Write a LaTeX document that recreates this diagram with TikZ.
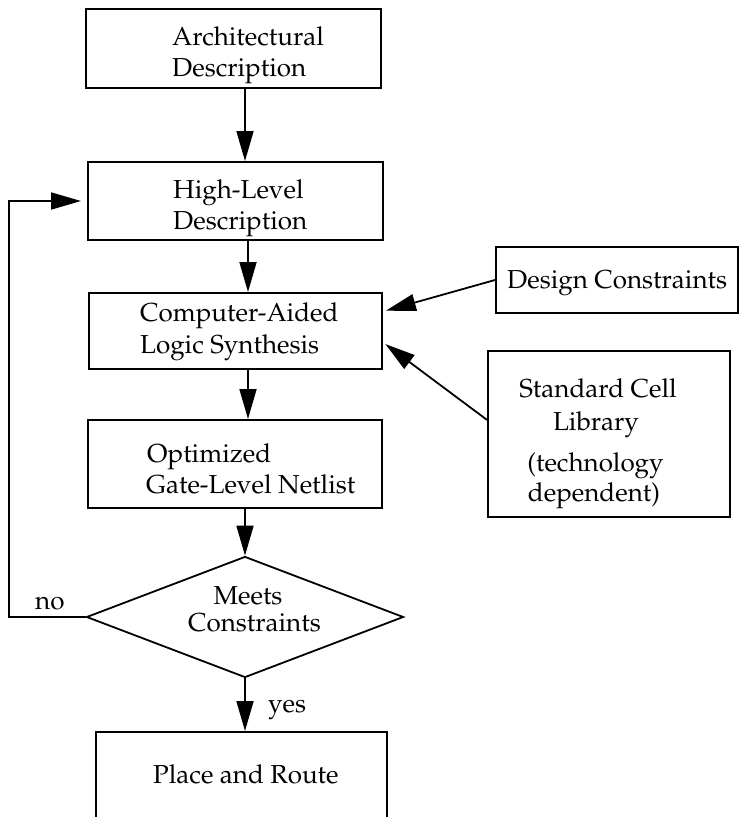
\documentclass[tikz,border=0pt]{standalone}
\usepackage[T1]{fontenc}
\renewcommand{\rmdefault}{ppl}
\usetikzlibrary{arrows.meta,shapes.geometric,calc}
\tikzset{
  box/.style={draw, line width=2pt, inner sep=0pt, rectangle},
  dia/.style={draw, line width=1.8pt, inner sep=0pt, diamond},
  arr/.style={line width=1.8pt, -{Triangle[length=30pt,width=17pt]}},
  txt/.style={inner sep=0pt, anchor=base west, font=\fontsize{26}{31}\selectfont},
  ctxt/.style={txt, anchor=base},
}
\begin{document}
\begin{tikzpicture}[x=1pt,y=-1pt]
\useasboundingbox (0,0) rectangle (745,817);
\clip (0,0) rectangle (745,817);
\fill[white] (0,0) rectangle (745,817);
% boxes
\node[box, minimum width=295pt, minimum height=79pt] (arch) at (233.5,48.5) {};
\node[box, minimum width=295pt, minimum height=78pt] (hl) at (235.5,201) {};
\node[box, minimum width=293pt, minimum height=76pt] (cals) at (235.5,331) {};
\node[box, minimum width=294pt, minimum height=88pt] (opt) at (235,464) {};
\node[dia, minimum width=317pt, minimum height=121pt] (dm) at (245,617) {};
\node[box, minimum width=291pt, minimum height=118pt] (place) at (241.5,791) {};
\node[box, minimum width=242pt, minimum height=66pt] (dc) at (617,280) {};
\node[box, minimum width=242pt, minimum height=166pt] (sc) at (609,434) {};
% texts
\node[txt] (t1a) at (172,45) {Architectural};
\node[txt] (t1b) at (172,76) {Description};
\node[txt] (t2a) at (173,198) {High-Level};
\node[txt] (t2b) at (173,229) {Description};
\node[txt] (t3a) at (140,321) {Computer-Aided};
\node[txt] (t3b) at (140,353) {Logic Synthesis};
\node[txt] (t4a) at (147,462) {Optimized};
\node[txt] (t4b) at (146,493) {Gate-Level Netlist};
\node[ctxt] (t5a) at (248,604) {Meets};
\node[ctxt] (t5b) at (254.5,631) {Constraints};
\node[txt] (t6) at (153,783) {Place and Route};
\node[txt] (t7) at (507,288) {Design Constraints};
\node[ctxt] (t8a) at (598,397) {Standard Cell};
\node[ctxt] (t8b) at (596,430) {Library};
\node[ctxt] (t8c) at (595.5,471) {(technology};
\node[ctxt] (t8d) at (594,501) {dependent)};
\node[txt] (no) at (35,609) {no};
\node[txt] (yes) at (268,712) {yes};
% connectors
\coordinate (fb) at (9,400);
\draw[arr] (arch.south -| 245,0) -- (hl.north -| 245,0);
\draw[arr] (hl.south -| 248,0) -- (cals.north -| 248,0);
\draw[arr] (cals.south -| 248,0) -- (opt.north -| 248,0);
\draw[arr] (opt.south -| dm.north) -- (dm.north);
\draw[arr] (dm.south) -- (dm.south |- place.north);
\draw[arr, shorten >=6pt] (dm.west) -- (dm.west -| fb) |- (hl.west);
\draw[arr, shorten >=3pt] (dc.west) -- ($(cals.south east)!0.75!(cals.north east)$);
\draw[arr, shorten >=3pt] ($(sc.south west)!0.584!(sc.north west)$) -- ($(cals.south east)!0.355!(cals.north east)$);
\end{tikzpicture}
\end{document}
